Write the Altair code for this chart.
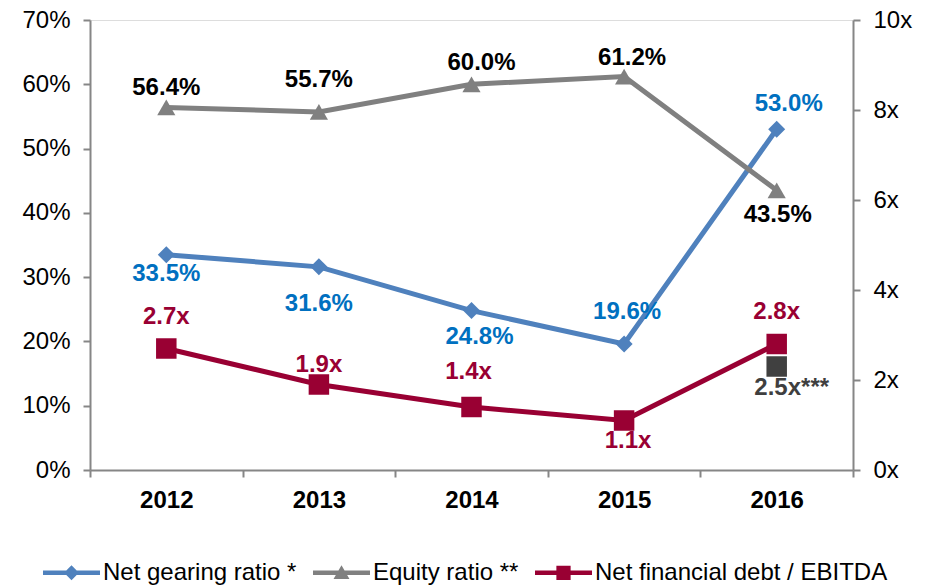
import altair as alt
import pandas as pd

# ---------------- data ----------------
years = ["2012", "2013", "2014", "2015", "2016"]
net_gearing = [33.5, 31.6, 24.8, 19.6, 53.0]          # % (left axis)
equity_ratio = [56.4, 55.7, 60.0, 61.2, 43.5]         # % (left axis)
nfd_ebitda = [2.7, 1.9, 1.4, 1.1, 2.8]                # x (right axis)
adj_year = ["2016"]
adj_value = [2.3]                                     # grey square position
adj_label = ["2.5x***"]

series_names = ["Net gearing ratio *", "Equity ratio **", "Net financial debt / EBITDA"]

# ---------------- styles ----------------
FONT = "Liberation Sans"
BLUE_LINE = "#4F81BD"
BLUE_TEXT = "#0070C0"
GREY_LINE = "#808080"
RED = "#990033"
DARK = "#404040"
AXIS_GREY = "#868686"
LBL = 24

# per-label offsets (dx, dy) in pixels
gearing_off = [(0, 19), (0, 37), (8, 26), (3, -32), (12, -25)]
equity_off = [(0, -19), (0, -32), (10, -21), (8, -19), (1, 25)]
nfd_off = [(0, -32), (0, -20), (-3, -35), (4, 20), (0, -32)]

df = pd.DataFrame({
    "year": years,
    "gearing": net_gearing,
    "equity": equity_ratio,
    "nfd": nfd_ebitda,
    "gearing_lbl": [f"{v:.1f}%" for v in net_gearing],
    "equity_lbl": [f"{v:.1f}%" for v in equity_ratio],
    "nfd_lbl": [f"{v:.1f}x" for v in nfd_ebitda],
})
adj_df = pd.DataFrame({"year": adj_year, "value": adj_value, "label": adj_label})
legend_df = pd.DataFrame({"series": series_names})

x_scale = alt.Scale(type="band", domain=years, paddingInner=0, paddingOuter=0)
x_axis = alt.Axis(
    title=None, labelAngle=0, labelFont=FONT, labelFontSize=LBL, labelFontWeight="bold",
    labelColor="black", labelPadding=11, tickBand="extent", tickSize=7, tickColor=AXIS_GREY,
    tickWidth=2, domainColor=AXIS_GREY, domainWidth=2, grid=False,
)
left_scale = alt.Scale(domain=[0, 70], nice=False, zero=True)
right_scale = alt.Scale(domain=[0, 10], nice=False, zero=True)
left_axis = alt.Axis(
    title=None, values=list(range(0, 71, 10)), labelExpr="datum.value + '%'",
    labelFont=FONT, labelFontSize=LBL, labelColor="black", labelPadding=13,
    tickSize=7, tickColor=AXIS_GREY, tickWidth=2, domainColor=AXIS_GREY, domainWidth=2,
    grid=False, orient="left",
)
right_axis = alt.Axis(
    title=None, values=list(range(0, 11, 2)), labelExpr="datum.value + 'x'",
    labelFont=FONT, labelFontSize=LBL, labelColor="black", labelPadding=13,
    tickSize=7, tickColor=AXIS_GREY, tickWidth=2, domainColor=AXIS_GREY, domainWidth=2,
    grid=False, orient="right",
)

X = alt.X("year:O", scale=x_scale, axis=x_axis)


def line_layers(field, scale, axis, line_color, shape, msize, text_color, lbl_field, offsets):
    base = alt.Chart(df)
    Y = alt.Y(f"{field}:Q", scale=scale, axis=axis)
    layers = [
        base.mark_line(color=line_color, strokeWidth=5).encode(x=X, y=Y),
        base.mark_point(shape=shape, filled=True, opacity=1, color=line_color, size=msize).encode(x=X, y=Y),
    ]
    for yr, (dx, dy) in zip(years, offsets):
        layers.append(
            base.transform_filter(alt.datum.year == yr).mark_text(
                dx=dx, dy=dy, font=FONT, fontSize=LBL, fontWeight="bold", color=text_color,
                baseline="middle", align="center",
            ).encode(x=X, y=Y, text=f"{lbl_field}:N")
        )
    return layers


left_group = alt.layer(
    *line_layers("gearing", left_scale, left_axis, BLUE_LINE, "diamond", 290, BLUE_TEXT,
                 "gearing_lbl", gearing_off),
    *line_layers("equity", left_scale, left_axis, GREY_LINE, "triangle-up", 330, "black",
                 "equity_lbl", equity_off),
)

RY = alt.Y("value:Q", scale=right_scale, axis=right_axis)
right_group = alt.layer(
    *line_layers("nfd", right_scale, right_axis, RED, "square", 420, RED, "nfd_lbl", nfd_off),
    alt.Chart(adj_df).mark_point(shape="square", filled=True, opacity=1, color=DARK, size=420).encode(
        x=X, y=RY),
    alt.Chart(adj_df).mark_text(
        dx=15, dy=21, font=FONT, fontSize=LBL, fontWeight="bold", color="#3F3F3F",
        baseline="middle", align="center",
    ).encode(x=X, y=RY, text="label:N"),
)

# legend: custom symbols (line with marker)
sym_diamond = "M-1,-0.08H1V0.08H-1Z M0,-0.26L0.26,0L0,0.26L-0.26,0Z"
sym_triangle = "M-1,-0.08H1V0.08H-1Z M0,-0.26L0.28,0.22H-0.28Z"
sym_square = "M-1,-0.08H1V0.08H-1Z M-0.25,-0.25H0.25V0.25H-0.25Z"

legend = alt.Legend(
    title=None, orient="none", legendX=-47, legendY=524, direction="horizontal", columns=3,
    labelFont=FONT, labelFontSize=LBL, labelColor="black", labelLimit=500,
    symbolSize=57 * 57, symbolStrokeWidth=0, symbolOpacity=1, labelOffset=3, columnPadding=16,
)
legend_layer = alt.Chart(legend_df).mark_point(filled=True, opacity=0).encode(
    color=alt.Color("series:N", scale=alt.Scale(domain=series_names, range=[BLUE_LINE, GREY_LINE, RED]),
                    legend=legend),
    shape=alt.Shape("series:N", scale=alt.Scale(domain=series_names, range=[sym_diamond, sym_triangle, sym_square]),
                    legend=legend),
)

chart = alt.layer(left_group, right_group, legend_layer).resolve_scale(
    y="independent"
).resolve_axis(y="independent").properties(
    width=763, height=450, autosize="none",
    padding={"left": 82, "top": 12, "right": 69, "bottom": 122},
).configure_view(stroke=AXIS_GREY, strokeWidth=2).configure(background="white")

chart.save("out.html", embed_options={"renderer": "svg", "actions": False})
